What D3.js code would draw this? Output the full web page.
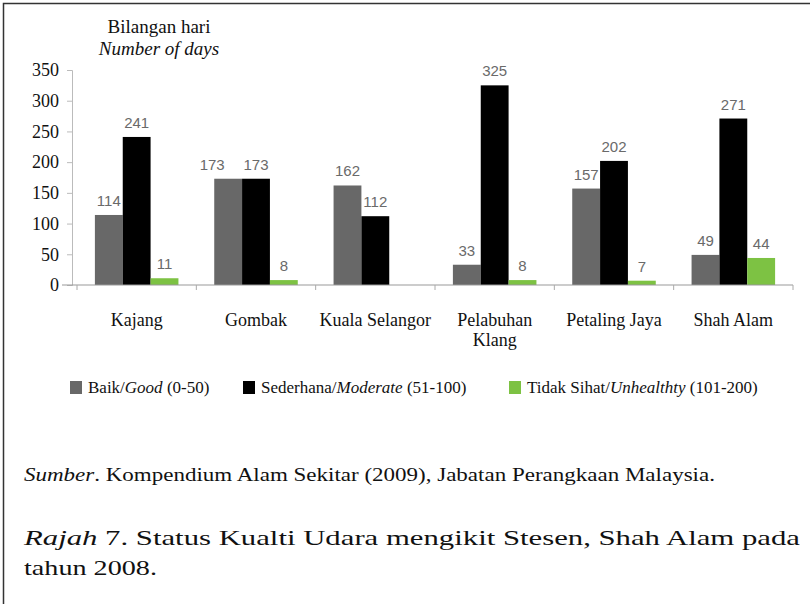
<!DOCTYPE html>
<html>
<head>
<meta charset="utf-8">
<script src="https://cdn.jsdelivr.net/npm/d3@7"></script>
<style>
	body { margin: 0; background: #fff; }
	svg { display: block; }
	.serif { font-family: "Liberation Serif", "Times New Roman", serif; fill: #111; }
	.val { font-family: "Liberation Sans", Arial, sans-serif; font-size: 15px; fill: #6a6a6a; }
</style>
</head>
<body>
<div id="chart"></div>
<script>
// Status Kualiti Udara by station, 2008 (number of days)
var stations = ["Kajang", "Gombak", "Kuala Selangor", "Pelabuhan Klang", "Petaling Jaya", "Shah Alam"];
var baik = [114, 173, 162, 33, 157, 49];
var sederhana = [241, 173, 112, 325, 202, 271];
var tidakSihat = [11, 8, null, 8, 7, 44];
var yTicks = [0, 50, 100, 150, 200, 250, 300, 350];

var seriesKeys = ["baik", "sederhana", "tidak"];
var seriesColor = { baik: "#686868", sederhana: "#000000", tidak: "#7dc243" };

var width = 810, height = 604;

var svg = d3.select("#chart").append("svg")
	.attr("width", width)
	.attr("height", height);

svg.append("rect").attr("width", width).attr("height", height).attr("fill", "#fff");

// frame (left + top only, like the scan)
svg.append("path")
	.attr("d", "M3.5,604V3.5H810")
	.attr("fill", "none")
	.attr("stroke", "#333")
	.attr("stroke-width", 1.5);

var x = d3.scaleBand()
	.domain(stations)
	.range([77, 793])
	.paddingInner(0.3)
	.paddingOuter(0.15);

var xs = d3.scaleBand()
	.domain(seriesKeys)
	.range([0, x.bandwidth()]);

var y = d3.scaleLinear()
	.domain([0, 350])
	.range([285, 70]);

// y axis
var yAxis = svg.append("g")
	.attr("transform", "translate(72,0)")
	.call(d3.axisLeft(y).tickValues(yTicks).tickSize(5).tickPadding(8));
yAxis.select(".domain").attr("stroke", "#bbb");
yAxis.selectAll(".tick line").attr("stroke", "#bbb");
yAxis.selectAll(".tick text")
	.attr("class", "serif")
	.style("font-size", "18px")
	.attr("fill", "#111");

// axis title
var title = svg.append("text")
	.attr("class", "serif")
	.attr("text-anchor", "middle")
	.style("font-size", "19px");
title.append("tspan").attr("x", 159).attr("y", 33).text("Bilangan hari");
title.append("tspan").attr("x", 159).attr("y", 55).style("font-style", "italic").text("Number of days");

// rows of bars
var rows = stations.map(function (s, i) {
	return { station: s, values: [
		{ key: "baik", v: baik[i] },
		{ key: "sederhana", v: sederhana[i] },
		{ key: "tidak", v: tidakSihat[i] }
	] };
});

var groups = svg.selectAll(".group")
	.data(rows)
	.enter().append("g")
	.attr("class", "group")
	.attr("transform", function (d) { return "translate(" + x(d.station) + ",0)"; });

groups.selectAll("rect")
	.data(function (d) { return d.values.filter(function (e) { return e.v != null; }); })
	.enter().append("rect")
	.attr("x", function (d) { return xs(d.key); })
	.attr("y", function (d) { return y(d.v); })
	.attr("width", xs.bandwidth())
	.attr("height", function (d) { return y(0) - y(d.v); })
	.attr("fill", function (d) { return seriesColor[d.key]; });

// value labels; nudge the "baik" one left when it would collide with its neighbour
groups.each(function (row) {
	var g = d3.select(this);
	row.values.forEach(function (e, j) {
		if (e.v == null) return;
		var cx = xs(e.key) + xs.bandwidth() / 2;
		if (e.key == "baik" && Math.abs(y(e.v) - y(row.values[1].v)) < 18) cx -= 16;
		g.append("text")
			.attr("class", "val")
			.attr("x", cx)
			.attr("y", y(e.v) - 9)
			.attr("text-anchor", "middle")
			.text(e.v);
	});
});

// baseline + category ticks
svg.append("line")
	.attr("x1", 62).attr("x2", 793)
	.attr("y1", y(0)).attr("y2", y(0))
	.attr("stroke", "#999");

var edges = stations.map(function (s) { return x(s) - x.step() * x.paddingOuter(); });
edges.push(x.range()[1]);
svg.selectAll(".cat-tick")
	.data(edges)
	.enter().append("line")
	.attr("x1", function (d) { return d; }).attr("x2", function (d) { return d; })
	.attr("y1", y(0)).attr("y2", y(0) + 5)
	.attr("stroke", "#aaa");

// category labels
svg.selectAll(".cat")
	.data(stations)
	.enter().append("text")
	.attr("class", "serif")
	.style("font-size", "18px")
	.attr("text-anchor", "middle")
	.each(function (s) {
		var t = d3.select(this);
		var cx = x(s) + x.bandwidth() / 2;
		var parts = s == "Pelabuhan Klang" ? ["Pelabuhan", "Klang"] : [s];
		parts.forEach(function (p, k) {
			t.append("tspan").attr("x", cx).attr("y", 326 + k * 20).text(p);
		});
	});

// legend
var legendItems = [
	{ key: "baik", my: "Baik/", en: "Good", range: " (0-50)", x: 70 },
	{ key: "sederhana", my: "Sederhana/", en: "Moderate", range: " (51-100)", x: 243 },
	{ key: "tidak", my: "Tidak Sihat/", en: "Unhealthty", range: " (101-200)", x: 509 }
];
var legend = svg.selectAll(".legend")
	.data(legendItems)
	.enter().append("g")
	.attr("transform", function (d) { return "translate(" + d.x + ",387)"; });
legend.append("rect")
	.attr("y", -6)
	.attr("width", 12).attr("height", 13)
	.attr("fill", function (d) { return seriesColor[d.key]; });
var lt = legend.append("text")
	.attr("class", "serif")
	.attr("x", 18)
	.attr("y", 6)
	.style("font-size", "17px");
lt.append("tspan").text(function (d) { return d.my; });
lt.append("tspan").style("font-style", "italic").text(function (d) { return d.en; });
lt.append("tspan").text(function (d) { return d.range; });

// source
var src = svg.append("text")
	.attr("class", "serif")
	.attr("x", 24).attr("y", 481)
	.attr("textLength", 691)
	.attr("lengthAdjust", "spacingAndGlyphs")
	.style("font-size", "18px");
src.append("tspan").style("font-style", "italic").text("Sumber");
src.append("tspan").text(". Kompendium Alam Sekitar (2009), Jabatan Perangkaan Malaysia.");

// caption
var cap = svg.append("text")
	.attr("class", "serif")
	.attr("x", 24).attr("y", 545)
	.attr("textLength", 776)
	.attr("lengthAdjust", "spacingAndGlyphs")
	.style("font-size", "21px");
cap.append("tspan").style("font-style", "italic").text("Rajah");
cap.append("tspan").text("  7. Status Kualti Udara mengikit Stesen, Shah Alam pada");

svg.append("text")
	.attr("class", "serif")
	.attr("x", 24).attr("y", 575)
	.attr("textLength", 133)
	.attr("lengthAdjust", "spacingAndGlyphs")
	.style("font-size", "21px")
	.text("tahun 2008.");
</script>
</body>
</html>
